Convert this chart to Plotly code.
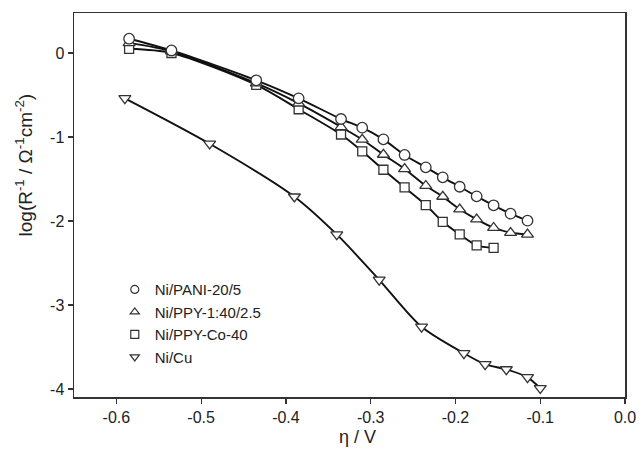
import plotly.graph_objects as go

# Data
x_pani = [-0.585, -0.535, -0.435, -0.385, -0.335, -0.31, -0.285, -0.26, -0.235, -0.215, -0.195, -0.175, -0.155, -0.135, -0.115]
y_pani = [0.17, 0.03, -0.325, -0.54, -0.786, -0.889, -1.028, -1.214, -1.361, -1.48, -1.592, -1.706, -1.813, -1.913, -1.996]

x_ppy = [-0.585, -0.535, -0.435, -0.385, -0.335, -0.31, -0.285, -0.26, -0.235, -0.215, -0.195, -0.175, -0.155, -0.135, -0.115]
y_ppy = [0.12, 0.02, -0.36, -0.60, -0.88, -1.03, -1.21, -1.38, -1.58, -1.71, -1.86, -1.98, -2.08, -2.14, -2.16]

x_co = [-0.585, -0.535, -0.435, -0.385, -0.335, -0.31, -0.285, -0.26, -0.235, -0.215, -0.195, -0.175, -0.155]
y_co = [0.05, 0.0, -0.38, -0.67, -0.97, -1.17, -1.39, -1.60, -1.81, -2.01, -2.16, -2.29, -2.32]

x_cu = [-0.59, -0.49, -0.39, -0.34, -0.29, -0.24, -0.19, -0.165, -0.14, -0.115, -0.10]
y_cu = [-0.54, -1.08, -1.71, -2.16, -2.70, -3.26, -3.575, -3.706, -3.766, -3.861, -3.99]

names = ["Ni/PANI-20/5", "Ni/PPY-1:40/2.5", "Ni/PPY-Co-40", "Ni/Cu"]
legend_symbols = ["circle", "triangle-up", "square", "triangle-down"]

x_ticks = [-0.6, -0.5, -0.4, -0.3, -0.2, -0.1, 0.0]
x_tick_labels = ["-0.6", "-0.5", "-0.4", "-0.3", "-0.2", "-0.1", "0.0"]
y_ticks = [0, -1, -2, -3, -4]
y_tick_labels = ["0", "-1", "-2", "-3", "-4"]

series = [
    (x_cu, y_cu, "triangle-down"),
    (x_co, y_co, "square"),
    (x_ppy, y_ppy, "triangle-up"),
    (x_pani, y_pani, "circle"),
]

FONT = "Liberation Sans, Arial, sans-serif"

fig = go.Figure()
for xs, ys, sym in series:
    fig.add_trace(go.Scatter(
        x=xs, y=ys, mode="lines",
        line=dict(color="#111", width=1.9, shape="spline", smoothing=0.8),
        showlegend=False, hoverinfo="skip"))
for xs, ys, sym in series:
    fig.add_trace(go.Scatter(
        x=xs, y=ys, mode="markers",
        marker=dict(symbol=sym, size=10.5 if sym != "square" else 9, color="white",
                    line=dict(color="#333", width=1.3)),
        showlegend=False))

# legend-only entries (marker only, as in the reference legend)
for name, sym in zip(names, legend_symbols):
    fig.add_trace(go.Scatter(
        x=[None], y=[None], mode="markers", name=name,
        marker=dict(symbol=sym, size=8, color="white", line=dict(color="#333", width=1.2))))

axis_common = dict(
    showline=True, linecolor="#333", linewidth=1.5, mirror=True,
    ticks="outside", ticklen=5, tickwidth=1.2, tickcolor="#333",
    showgrid=False, zeroline=False, automargin=False,
    tickfont=dict(family=FONT, size=16, color="#222"),
)

fig.update_xaxes(range=[-0.65, 0.0], tickvals=x_ticks, ticktext=x_tick_labels, **axis_common)
fig.update_yaxes(range=[-4.095, 0.476], tickvals=y_ticks, ticktext=y_tick_labels, **axis_common)

fig.update_layout(
    width=643, height=463,
    margin=dict(l=74, r=18, t=13, b=66),
    paper_bgcolor="white", plot_bgcolor="white",
    font=dict(family=FONT, size=16, color="#222"),
    legend=dict(x=0.074, y=0.3225, xanchor="left", yanchor="top",
                bgcolor="rgba(0,0,0,0)", font=dict(family=FONT, size=15, color="#222"),
                tracegroupgap=0),
    annotations=[
        dict(text="log(R<sup>-1</sup> / Ω<sup>-1</sup>cm<sup>-2</sup>)", textangle=-90,
             xref="paper", yref="paper", x=-0.09, y=0.604, xanchor="center", yanchor="middle",
             showarrow=False, font=dict(family=FONT, size=19, color="#222")),
        dict(text="η / V", xref="paper", yref="paper", x=0.515, y=-0.104,
             xanchor="center", yanchor="middle", showarrow=False,
             font=dict(family=FONT, size=18, color="#222")),
    ],
)

fig.write_html("out.html", config={"displayModeBar": False, "staticPlot": True},
               post_script="document.body.style.margin='0';document.body.style.overflow='hidden';")
